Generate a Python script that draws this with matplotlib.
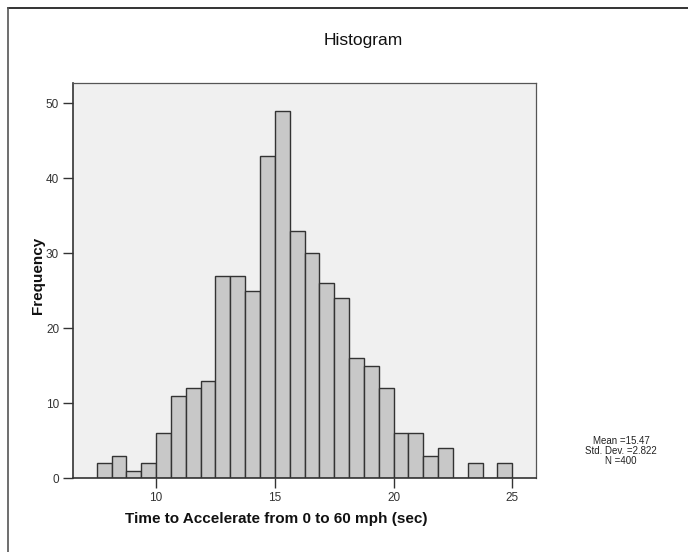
import matplotlib
matplotlib.use("Agg")
import matplotlib.pyplot as plt
from matplotlib.lines import Line2D
import numpy as np

plt.rcParams['font.family'] = ['Liberation Sans', 'DejaVu Sans']

# histogram bins (sec) and frequencies
bin_start = 7.5
bin_width = 0.625
counts = [2, 3, 1, 2, 6, 11, 12, 13, 27, 27, 25, 43, 49, 33,
          30, 26, 24, 16, 15, 12, 6, 6, 3, 4, 0, 2, 0, 2]
x_ticks = [10, 15, 20, 25]
y_ticks = [0, 10, 20, 30, 40, 50]
stats_lines = ["Mean =15.47", "Std. Dev. =2.822", "N =400"]

edges = bin_start + bin_width * np.arange(len(counts) + 1)

fig = plt.figure(figsize=(6.88, 5.52), dpi=100)
ax = fig.add_axes([0.1061, 0.134, 0.673, 0.7156])
ax.set_facecolor("#f0f0f0")

ax.bar(edges[:-1], counts, width=bin_width, align='edge',
       color="#c8c8c8", edgecolor="#333333", linewidth=1.0)

ax.set_xlim(6.5, 26.0)
ax.set_ylim(0, 52.7)
ax.set_xticks(x_ticks)
ax.set_yticks(y_ticks)
ax.tick_params(axis='both', direction='out', length=7, width=1,
               labelsize=8.5, colors="#333333", pad=3)

for side in ['left', 'bottom']:
    ax.spines[side].set_color("#333333")
    ax.spines[side].set_linewidth(1.2)
for side in ['top', 'right']:
    ax.spines[side].set_color("#555555")
    ax.spines[side].set_linewidth(0.9)

fig.text(363 / 688, 1 - 40 / 552, "Histogram", ha='center', va='center',
         fontsize=12.5, color="#111111")
fig.text(38 / 688, 1 - 275 / 552, "Frequency", rotation=90, ha='center',
         va='center', fontsize=11, fontweight='bold', color="#111111")
fig.text(276 / 688, 1 - 519 / 552, "Time to Accelerate from 0 to 60 mph (sec)",
         ha='center', va='center', fontsize=11, fontweight='bold',
         color="#111111")

for i, line in enumerate(stats_lines):
    fig.text(621 / 688, 1 - (441 + i * 10) / 552, line, ha='center',
             va='center', fontsize=7, color="#222222")

# outer frame (top and left edges only)
fig.add_artist(Line2D([8 / 688, 1], [1 - 8 / 552, 1 - 8 / 552],
                      transform=fig.transFigure, color="#111111", lw=1.2))
fig.add_artist(Line2D([8 / 688, 8 / 688], [0, 1 - 8 / 552],
                      transform=fig.transFigure, color="#555555", lw=1.2))

fig.savefig("out.png", dpi=100, facecolor="white")
